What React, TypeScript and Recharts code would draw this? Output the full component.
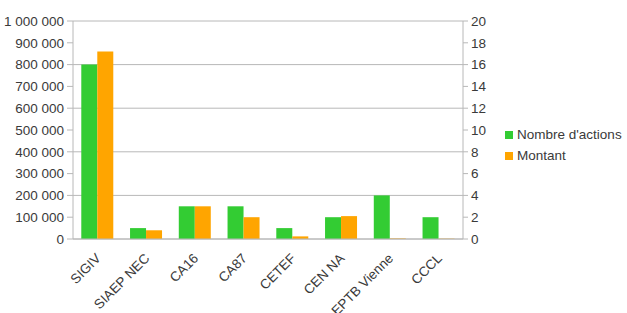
import { Bar, BarChart, CartesianGrid, Legend, XAxis, YAxis } from 'recharts'

const categories = ['SIGIV', 'SIAEP NEC', 'CA16', 'CA87', 'CETEF', 'CEN NA', 'EPTB Vienne', 'CCCL']
const nombreActions = [16, 1, 3, 3, 1, 2, 4, 2]
const montant = [860000, 40000, 150000, 100000, 12000, 105000, 2500, 1500]
const leftTicks = [0, 100000, 200000, 300000, 400000, 500000, 600000, 700000, 800000, 900000, 1000000]
const rightTicks = [0, 2, 4, 6, 8, 10, 12, 14, 16, 18, 20]
const boundaryTicks = [0, 1, 2, 3, 4, 5, 6, 7, 8]

const data = categories.map((name, i) => ({ name, actions: nombreActions[i], montant: montant[i] }))

const palette = { green: '#33cc33', orange: '#ffa500', grid: '#b8b8b8', text: '#3a3a3a' }
const font = '"Liberation Sans", Arial, sans-serif'
const fs = 13.5

const spaced = (n: number) => String(n).replace(/\B(?=(\d{3})+(?!\d))/g, ' ')

function CatTick(props: any) {
  const { x, y, payload } = props
  return (
    <g transform={`translate(${x - 3},${y + 5})`}>
      <text
        x={0}
        y={0}
        dy="0.75em"
        textAnchor="end"
        transform="rotate(-45)"
        fontSize={fs}
        fontFamily={font}
        fill={palette.text}
      >
        {payload.value}
      </text>
    </g>
  )
}

export default function App() {
  return (
    <div style={{ position: 'absolute', left: 0, top: 0, width: 627, height: 313, background: '#fff' }}>
      <BarChart
        width={627}
        height={313}
        data={data}
        margin={{ top: 21, right: 124, bottom: 0, left: 0 }}
        barCategoryGap="17%"
        barGap={0}
      >
        <CartesianGrid vertical={false} stroke={palette.grid} yAxisId="left" />
        <XAxis
          xAxisId="grid"
          type="number"
          domain={[0, 8]}
          ticks={boundaryTicks}
          allowDataOverflow
          tick={false}
          axisLine={false}
          tickLine={{ stroke: palette.grid }}
          tickSize={6}
          height={0}
        />
        <XAxis
          xAxisId="cat"
          dataKey="name"
          interval={0}
          tick={<CatTick />}
          tickLine={false}
          axisLine={{ stroke: palette.grid }}
          height={74}
        />
        <YAxis
          yAxisId="left"
          orientation="left"
          width={73}
          domain={[0, 1000000]}
          ticks={leftTicks}
          tickFormatter={spaced}
          tick={{ fontSize: fs, fill: palette.text, fontFamily: font }}
          axisLine={{ stroke: palette.grid }}
          tickLine={{ stroke: palette.grid }}
          tickSize={6}
          tickMargin={3}
        />
        <YAxis
          yAxisId="right"
          orientation="right"
          width={40}
          domain={[0, 20]}
          ticks={rightTicks}
          tick={{ fontSize: fs, fill: palette.text, fontFamily: font }}
          axisLine={{ stroke: palette.grid }}
          tickLine={{ stroke: palette.grid }}
          tickSize={5}
          tickMargin={3}
        />
        <Legend
          layout="vertical"
          align="center"
          verticalAlign="middle"
          iconType="square"
          iconSize={8}
          itemSorter="dataKey"
          wrapperStyle={{ left: 505, top: 124, width: 130, fontSize: fs, fontFamily: font, lineHeight: '21px' }}
          formatter={(v: string) => <span style={{ color: palette.text }}>{v}</span>}
        />
        <Bar
          name="Nombre d'actions"
          dataKey="actions"
          xAxisId="cat"
          yAxisId="right"
          fill={palette.green}
          isAnimationActive={false}
        />
        <Bar
          name="Montant"
          dataKey="montant"
          xAxisId="cat"
          yAxisId="left"
          fill={palette.orange}
          isAnimationActive={false}
        />
      </BarChart>
    </div>
  )
}
